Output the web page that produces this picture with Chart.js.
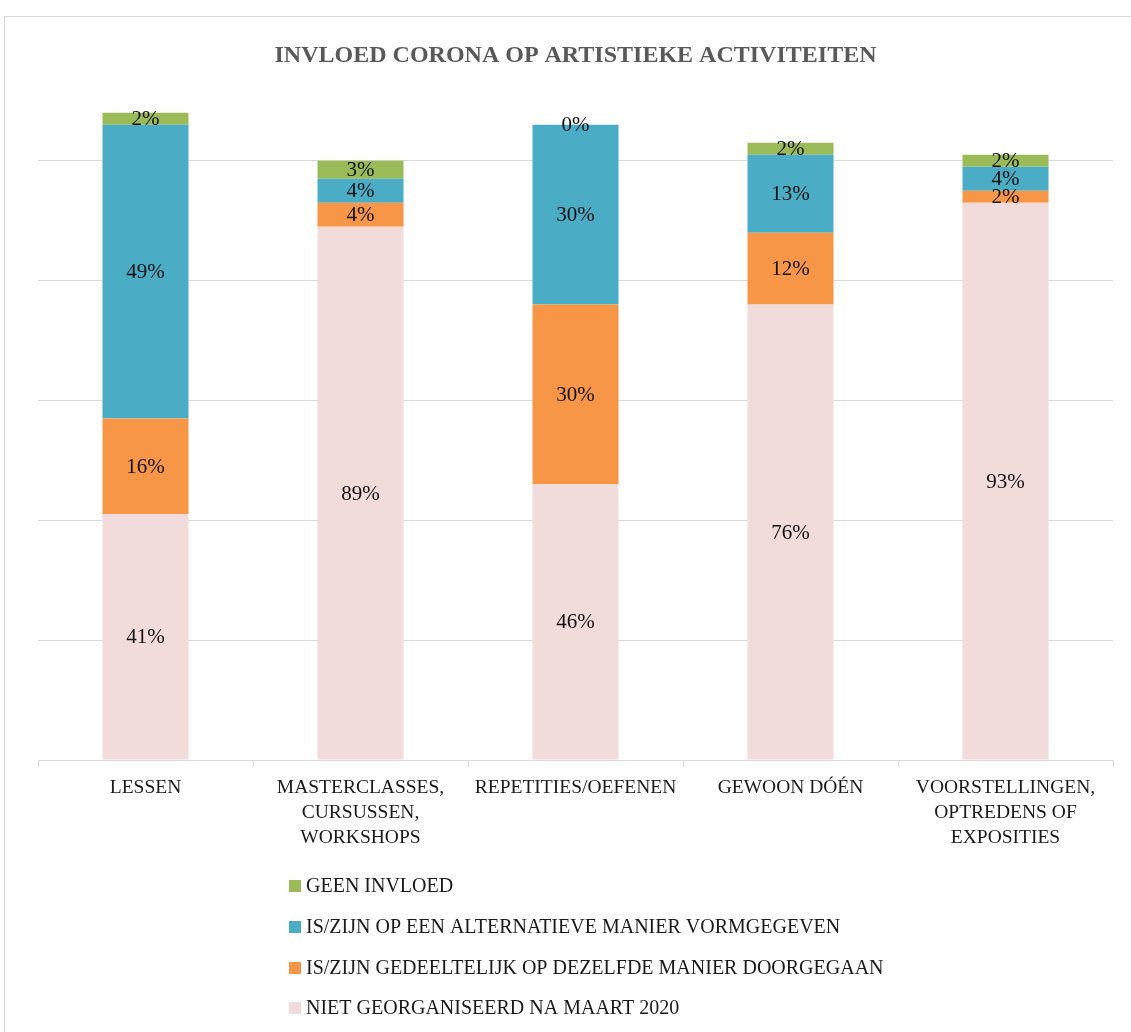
<!DOCTYPE html>
<html>
<head>
<meta charset="utf-8">
<script src="https://cdn.jsdelivr.net/npm/chart.js@4/dist/chart.umd.min.js"></script>
<style>
  html, body { margin: 0; padding: 0; background: #fff; }
  #wrap { width: 1131px; height: 1032px; }
</style>
</head>
<body>
<div id="wrap"><canvas id="chart"></canvas></div>
<script>
// Influence of corona on artistic activities (percent per category)
const categories = [
    'LESSEN',
    ['MASTERCLASSES,', 'CURSUSSEN,', 'WORKSHOPS'],
    'REPETITIES/OEFENEN',
    'GEWOON DÓÉN',
    ['VOORSTELLINGEN,', 'OPTREDENS OF', 'EXPOSITIES']
];
const nietGeorganiseerd = [41, 89, 46, 76, 93];
const gedeeltelijk = [16, 4, 30, 12, 2];
const alternatief = [49, 4, 30, 13, 4];
const geenInvloed = [2, 3, 0, 2, 2];
const seriesLabels = [
    'NIET GEORGANISEERD NA MAART 2020',
    'IS/ZIJN GEDEELTELIJK OP DEZELFDE MANIER DOORGEGAAN',
    'IS/ZIJN OP EEN ALTERNATIEVE MANIER VORMGEGEVEN',
    'GEEN INVLOED'
];
const yTicks = [0, 20, 40, 60, 80, 100];

const serif = '"Liberation Serif", "DejaVu Serif", serif';
const colors = ['#F2DCDB', '#F79646', '#4BACC6', '#9BBB59'];

// frame + white background
const framePlugin = {
    id: 'frame',
    beforeDraw(chart) {
        const c = chart.ctx;
        c.save();
        c.fillStyle = '#fff';
        c.fillRect(0, 0, chart.width, chart.height);
        c.strokeStyle = '#d9d9d9';
        c.lineWidth = 1;
        c.strokeRect(4.5, 16.5, chart.width + 20, chart.height + 20);
        c.restore();
    }
};

// percentage labels in the middle of each segment
const valueLabels = {
    id: 'valueLabels',
    afterDatasetsDraw(chart) {
        const c = chart.ctx;
        c.save();
        c.font = '21px ' + serif;
        c.fillStyle = '#111';
        c.textAlign = 'center';
        c.textBaseline = 'middle';
        chart.data.datasets.forEach((ds, i) => {
            chart.getDatasetMeta(i).data.forEach((bar, j) => {
                const p = bar.getProps(['x', 'y', 'base'], true);
                c.fillText(ds.data[j] + '%', p.x, (p.y + p.base) / 2 + 1);
            });
        });
        c.restore();
    }
};

// vertical legend below the axis, top series first
const stackLegend = {
    id: 'stackLegend',
    afterDraw(chart) {
        const c = chart.ctx;
        const rowsY = [886, 927, 968, 1008];
        c.save();
        c.font = '20px ' + serif;
        c.textBaseline = 'middle';
        const ds = chart.data.datasets.slice().reverse();
        ds.forEach((d, i) => {
            c.fillStyle = d.backgroundColor;
            c.fillRect(289, rowsY[i] - 6, 12, 12);
            c.fillStyle = '#1a1a1a';
            c.fillText(d.label, 306, rowsY[i] + 1);
        });
        c.restore();
    }
};

new Chart(document.getElementById('chart'), {
    type: 'bar',
    data: {
        labels: categories,
        datasets: [nietGeorganiseerd, gedeeltelijk, alternatief, geenInvloed].map((vals, i) => ({
            label: seriesLabels[i],
            data: vals,
            backgroundColor: colors[i],
            borderWidth: 0,
            categoryPercentage: 1,
            barPercentage: 0.4
        }))
    },
    options: {
        responsive: true,
        maintainAspectRatio: false,
        animation: false,
        layout: { padding: { left: 38, right: 18, top: 0, bottom: 174 } },
        scales: {
            x: {
                stacked: true,
                grid: { drawOnChartArea: false, color: '#d9d9d9', tickLength: 7 },
                border: { color: '#d9d9d9' },
                ticks: {
                    color: '#1a1a1a',
                    font: { family: serif, size: 19.5, lineHeight: 1.282 },
                    maxRotation: 0,
                    autoSkip: false,
                    padding: 8
                }
            },
            y: {
                stacked: true,
                min: 0,
                max: 110,
                afterBuildTicks: axis => { axis.ticks = yTicks.map(v => ({ value: v })); },
                grid: { color: '#d9d9d9', drawTicks: false },
                border: { display: false },
                ticks: { display: false }
            }
        },
        plugins: {
            legend: { display: false },
            tooltip: { enabled: false },
            title: {
                display: true,
                text: 'INVLOED CORONA OP ARTISTIEKE ACTIVITEITEN',
                color: '#595959',
                font: { family: serif, size: 24, weight: 'bold', lineHeight: 1.2 },
                padding: { top: 41, bottom: 31 }
            }
        }
    },
    plugins: [framePlugin, valueLabels, stackLegend]
});
</script>
</body>
</html>
